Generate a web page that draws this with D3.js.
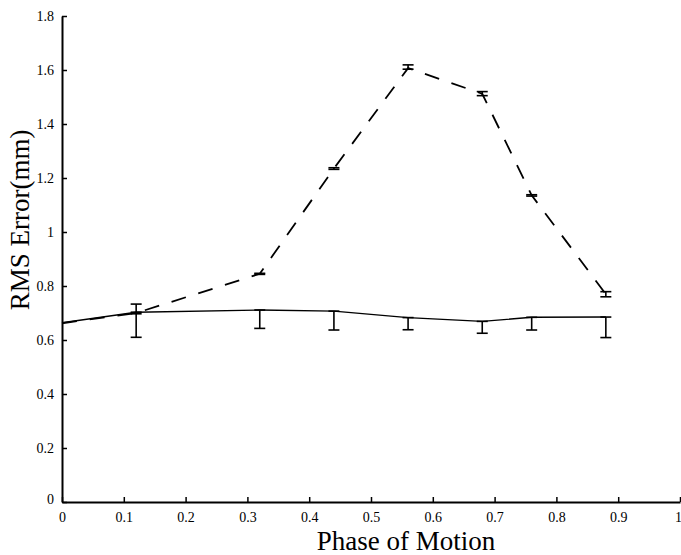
<!DOCTYPE html>
<html><head><meta charset="utf-8">
<script src="https://cdn.jsdelivr.net/npm/d3@7"></script>
<style>body{margin:0;background:#fff}svg{display:block}
svg text{font-family:"Liberation Serif","Times New Roman",serif;fill:#000}</style>
</head><body>
<script>
const phase = [0, 0.12, 0.32, 0.44, 0.56, 0.68, 0.76, 0.88];
const solidMean  = [0.664, 0.703, 0.711, 0.707, 0.683, 0.669, 0.684, 0.685];
const solidLow   = [null, 0.610, 0.643, 0.637, 0.638, 0.625, 0.637, 0.609];
const solidHigh  = [null, 0.733, 0.711, 0.707, 0.683, 0.669, 0.684, 0.685];
const dashMean   = [0.662, 0.700, 0.845, 1.235, 1.607, 1.512, 1.136, 0.770];
const dashLow    = [null, 0.697, 0.843, 1.232, 1.603, 1.505, 1.133, 0.760];
const dashHigh   = [null, 0.703, 0.847, 1.238, 1.619, 1.520, 1.138, 0.779];
const xTicks = [0, 0.1, 0.2, 0.3, 0.4, 0.5, 0.6, 0.7, 0.8, 0.9, 1];
const yTicks = [0, 0.2, 0.4, 0.6, 0.8, 1, 1.2, 1.4, 1.6, 1.8];
const xTitle = "Phase of Motion";
const yTitle = "RMS Error(mm)";

const W = 681, H = 555;
const svg = d3.select("body").append("svg").attr("width", W).attr("height", H);
const x = d3.scaleLinear().domain([0, 1]).range([62, 680]);
const y = d3.scaleLinear().domain([0, 1.8]).range([502, 16]);

// axes
const xAxis = svg.append("g").attr("transform", `translate(0,${y(0)})`)
  .call(d3.axisBottom(x).tickValues(xTicks).tickSizeInner(-5).tickSizeOuter(0).tickPadding(10)
    .tickFormat(d => d3.format("")(d)));
const yAxis = svg.append("g").attr("transform", `translate(${x(0)},0)`)
  .call(d3.axisLeft(y).tickValues(yTicks).tickSizeInner(-5).tickSizeOuter(0).tickPadding(8)
    .tickFormat(d => d3.format("")(d)));
[xAxis, yAxis].forEach(a => {
  a.attr("font-family", null).attr("font-size", null);
  a.select(".domain").attr("stroke", "#000").attr("stroke-width", 2);
  a.selectAll(".tick line").attr("stroke", "#000").attr("stroke-width", 1.5);
  a.selectAll("text").style("font-family", '"Liberation Serif","Times New Roman",serif')
    .style("font-size", "14px").attr("fill", "#000");
});
xAxis.selectAll(".tick").filter(d => d === 1).select("text").attr("dx", "-2");
yAxis.selectAll(".tick").filter(d => d === 0).select("text").attr("dy", "0.1em");

// lines
const pts = (m) => phase.map((p, i) => [p, m[i]]);
const line = d3.line().x(d => x(d[0])).y(d => y(d[1]));
svg.append("path").attr("d", line(pts(solidMean))).attr("fill", "none")
  .attr("stroke", "#000").attr("stroke-width", 1.4);
svg.append("path").attr("d", line(pts(dashMean))).attr("fill", "none")
  .attr("stroke", "#000").attr("stroke-width", 1.8).attr("stroke-dasharray", "15,13");

// error bars
function errBars(lo, hi) {
  const g = svg.append("g").attr("stroke", "#000").attr("stroke-width", 1.6);
  phase.forEach((p, i) => {
    if (lo[i] == null) return;
    const cx = x(p), cap = 5.5;
    g.append("line").attr("x1", cx).attr("x2", cx).attr("y1", y(lo[i])).attr("y2", y(hi[i]));
    g.append("line").attr("x1", cx - cap).attr("x2", cx + cap).attr("y1", y(lo[i])).attr("y2", y(lo[i]));
    g.append("line").attr("x1", cx - cap).attr("x2", cx + cap).attr("y1", y(hi[i])).attr("y2", y(hi[i]));
  });
}
errBars(solidLow, solidHigh);
errBars(dashLow, dashHigh);

// titles
svg.append("text").attr("x", 406).attr("y", 550).attr("text-anchor", "middle")
  .style("font-size", "27px").text(xTitle);
svg.append("text").attr("transform", "translate(29,220) rotate(-90)").attr("text-anchor", "middle")
  .style("font-size", "27px").text(yTitle);
</script>
</body></html>
